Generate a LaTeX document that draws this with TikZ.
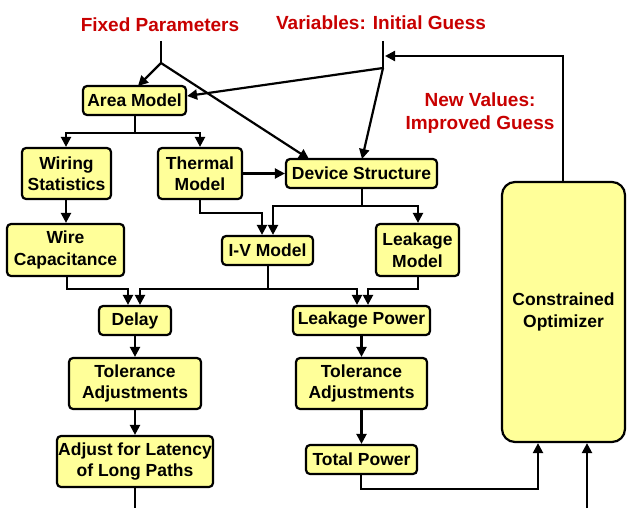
\documentclass[tikz,border=0pt]{standalone}
\usepackage{fontspec}
\setmainfont{Liberation Sans}
\usetikzlibrary{arrows.meta,calc}
\definecolor{boxfill}{RGB}{255,255,153}
\definecolor{labelred}{RGB}{200,0,0}
\tikzset{
  box/.style={draw=black, line width=2.2pt, fill=boxfill, rounded corners=4pt,
    align=center, inner sep=0pt, font=\bfseries\fontsize{17.5}{21.5}\selectfont},
  bigbox/.style={box, rounded corners=13pt},
  heading/.style={text=labelred, align=center, inner sep=0pt,
    font=\bfseries\fontsize{19}{23}\selectfont},
  wire/.style={line width=2.2pt, draw=black},
  arr/.style={wire, -{Triangle[length=10pt,width=10pt]}}
}
\begin{document}
\begin{tikzpicture}[x=1pt,y=-1pt]
\useasboundingbox (0,0) rectangle (628,508);

% headings
\node[heading] (fixed) at (160,25) {Fixed Parameters};
\node[heading] (vars) at (381,23) {Variables: Initial Guess};
\node[heading] (newv) at (480,113.5) {New Values:\\Improved Guess};

% boxes
\node[box, minimum width=103pt, minimum height=29pt] (area) at (134.5,100.5) {Area Model};
\node[box, minimum width=89pt, minimum height=51pt] (wiring) at (66.5,173.5) {Wiring\\Statistics};
\node[box, minimum width=84pt, minimum height=51pt] (thermal) at (200,173.5) {Thermal\\Model};
\node[box, minimum width=151pt, minimum height=29pt] (device) at (361.5,173.5) {Device Structure};
\node[box, minimum width=117pt, minimum height=52pt] (wirecap) at (65.5,250) {Wire\\Capacitance};
\node[box, minimum width=91pt, minimum height=29pt] (iv) at (267.5,250.5) {I-V Model};
\node[box, minimum width=83pt, minimum height=52pt] (leakm) at (417.5,250) {Leakage\\Model};
\node[box, minimum width=72pt, minimum height=29pt] (delay) at (135,320.5) {Delay};
\node[box, minimum width=137pt, minimum height=29pt] (leakp) at (361.5,320.5) {Leakage Power};
\node[box, minimum width=132pt, minimum height=51pt] (tolL) at (135,383.5) {Tolerance\\Adjustments};
\node[box, minimum width=131pt, minimum height=51pt] (tolR) at (361.5,383.5) {Tolerance\\Adjustments};
\node[box, minimum width=156pt, minimum height=51pt] (latency) at (135,461.5) {Adjust for Latency\\of Long Paths};
\node[box, minimum width=111pt, minimum height=29pt] (total) at (361.5,459.5) {Total Power};
\node[bigbox, minimum width=123pt, minimum height=260pt] (opt) at (563.5,312) {Constrained\\Optimizer};

% junction points
\coordinate (fTop) at (161,41);
\coordinate (fJ) at (161,63);
\coordinate (vTop) at (383,41);
\coordinate (vJ) at (383,68);
\coordinate (fbTurn) at (563,56);
\coordinate (fbEnd) at (385,56);
\coordinate (aSplit) at (135,133);
\coordinate (tTurn) at (262,213);
\coordinate (dSplit) at (362,206);
\coordinate (dL) at (273,206);
\coordinate (dR) at (418,206);
\coordinate (wcToDelay) at (128,289);
\coordinate (ivJ) at (268,289);
\coordinate (ivToDelay) at (140,289);
\coordinate (ivToLeak) at (357,289);
\coordinate (lmToLeak) at (368,289);
\coordinate (tpTurn) at (361,489);
\coordinate (tpUp) at (538,489);
\coordinate (extIn) at (587,508);
\coordinate (latOut) at (135,508);

% fixed parameters fan-out
\draw[wire] (fTop) -- (fJ);
\draw[arr] (fJ) -- (138,86);
\draw[arr] (fJ) -- (309,159);

% initial guess fan-out
\draw[wire] (vTop) -- (vJ);
\draw[arr] (vJ) -- (area.east |- 0,96);
\draw[arr] (vJ) -- (362,159);

% feedback from the optimizer
\draw[arr] (opt.north -| fbTurn) -- (fbTurn) -- (fbEnd);

% area model outputs
\draw[wire] (area.south -| aSplit) -- (aSplit);
\draw[arr] (aSplit) -| (wiring.north -| 66,0);
\draw[arr] (aSplit) -| (thermal.north);

% thermal and wiring
\draw[arr] (thermal.east) -- (device.west);
\draw[arr] (wiring.south -| 66,0) -- (wirecap.north -| 66,0);
\draw[arr] (thermal.south) |- (tTurn) -- (tTurn |- iv.north);

% device structure outputs
\draw[wire] (device.south -| dSplit) -- (dSplit);
\draw[arr] (dSplit) -| (iv.north -| dL);
\draw[arr] (dSplit) -| (leakm.north -| dR);

% into delay and leakage power
\draw[arr] (wirecap.south -| 67,0) |- (wcToDelay) -- (wcToDelay |- delay.north);
\draw[wire] (iv.south -| ivJ) -- (ivJ);
\draw[arr] (ivJ) -- (ivToDelay) -- (ivToDelay |- delay.north);
\draw[arr] (ivJ) -- (ivToLeak) -- (ivToLeak |- leakp.north);
\draw[arr] (leakm.south -| dR) |- (lmToLeak) -- (lmToLeak |- leakp.north);

% left chain
\draw[arr] (delay.south) -- (tolL.north);
\draw[arr] (tolL.south) -- (latency.north);
\draw[wire] (latency.south) -- (latOut);

% right chain
\draw[arr] (leakp.south) -- (tolR.north);
\draw[arr] (tolR.south) -- (total.north);
\draw[arr] (total.south -| tpTurn) -- (tpTurn) -- (tpUp) -- (tpUp |- opt.south);
\draw[arr] (extIn) -- (extIn |- opt.south);
\end{tikzpicture}
\end{document}
